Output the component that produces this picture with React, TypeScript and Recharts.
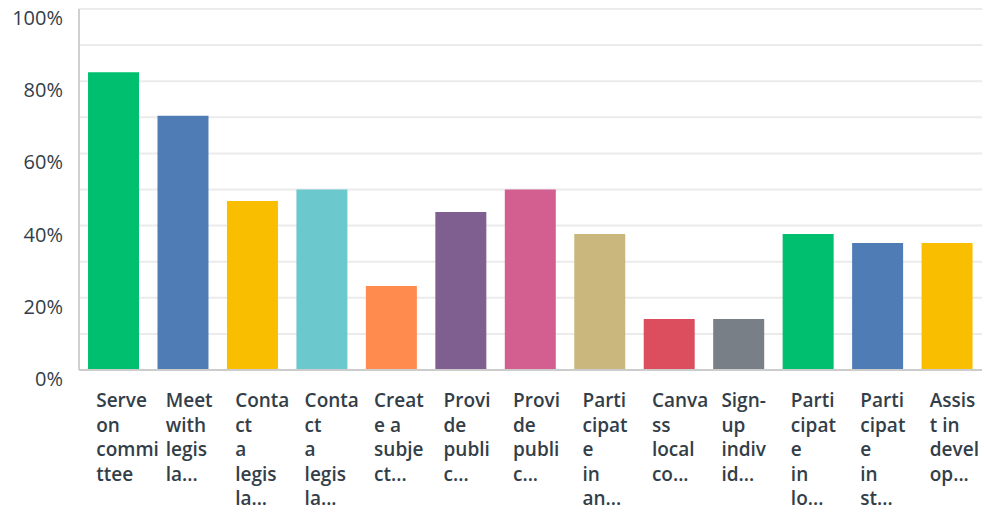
import { Bar, BarChart, CartesianGrid, Cell, XAxis, YAxis } from 'recharts'

const CATEGORIES = [
  'Serve on committee',
  'Meet with legislators',
  'Contact a legislator (a)',
  'Contact a legislator (b)',
  'Create a subject',
  'Provide public (a)',
  'Provide public (b)',
  'Participate in an',
  'Canvass local community',
  'Sign-up individuals',
  'Participate in local',
  'Participate in state',
  'Assist in developing',
]

// wrapped, truncated labels as shown under each bar
const LABEL_LINES = [
  ['Serve', 'on', 'commi', 'ttee'],
  ['Meet', 'with', 'legis', 'la...'],
  ['Conta', 'ct', 'a', 'legis', 'la...'],
  ['Conta', 'ct', 'a', 'legis', 'la...'],
  ['Creat', 'e a', 'subje', 'ct...'],
  ['Provi', 'de', 'publi', 'c...'],
  ['Provi', 'de', 'publi', 'c...'],
  ['Parti', 'cipat', 'e', 'in', 'an...'],
  ['Canva', 'ss', 'local', 'co...'],
  ['Sign-', 'up', 'indiv', 'id...'],
  ['Parti', 'cipat', 'e', 'in', 'lo...'],
  ['Parti', 'cipat', 'e', 'in', 'st...'],
  ['Assis', 't in', 'devel', 'op...'],
]

const VALUES = [82.5, 70.4, 46.8, 50, 23.3, 43.8, 50, 37.7, 14.1, 14.1, 37.7, 35.2, 35.2]

const COLORS = [
  '#00bf6f', '#507cb6', '#f9be00', '#6bc8cd', '#ff8b4f', '#7f5f90', '#d25f90',
  '#c9b77d', '#dc4e5d', '#787f86', '#00bf6f', '#507cb6', '#f9be00',
]

const Y_TICKS = [0, 10, 20, 30, 40, 50, 60, 70, 80, 90, 100]
const Y_LABELS = [0, 20, 40, 60, 80, 100]

const TEXT = '#333e48'
const FONT = '"Open Sans", sans-serif'

function XTick(props: any) {
  const { x, y, index } = props
  const lines = LABEL_LINES[index] ?? []
  return (
    <text x={x - 17.5} y={y + 29} fill={TEXT} fontFamily={FONT} fontSize={19} fontWeight={600}>
      {lines.map((l, i) => (
        <tspan key={i} x={x - 17.5} dy={i === 0 ? 0 : 24.5}>
          {l}
        </tspan>
      ))}
    </text>
  )
}

function YTick(props: any) {
  const { y, payload } = props
  if (!Y_LABELS.includes(payload.value)) return null
  return (
    <text x={63} y={y + 16} textAnchor="end" fill={TEXT} fontFamily={FONT} fontSize={20} fontWeight={500}>
      {payload.value}%
    </text>
  )
}

export default function App() {
  const data = CATEGORIES.map((name, i) => ({ name, value: VALUES[i] }))

  return (
    <div style={{ position: 'absolute', left: 0, top: 0, width: 984, height: 514, background: '#fff' }}>
      <BarChart
        width={984}
        height={514}
        data={data}
        margin={{ top: 9, right: 2, bottom: 0, left: 0 }}
        barCategoryGap="13%"
      >
        <CartesianGrid vertical={false} stroke="#ebebeb" strokeWidth={2} />
        <XAxis
          dataKey="name"
          interval={0}
          height={144}
          tickLine={false}
          axisLine={{ stroke: '#cccccc', strokeWidth: 2 }}
          tick={<XTick />}
        />
        <YAxis
          width={79}
          domain={[0, 100]}
          ticks={Y_TICKS}
          interval={0}
          tickLine={false}
          axisLine={{ stroke: '#d0d0d0', strokeWidth: 2 }}
          tick={<YTick />}
        />
        <Bar dataKey="value" isAnimationActive={false}>
          {data.map((_, i) => (
            <Cell key={i} fill={COLORS[i % COLORS.length]} />
          ))}
        </Bar>
      </BarChart>
    </div>
  )
}
